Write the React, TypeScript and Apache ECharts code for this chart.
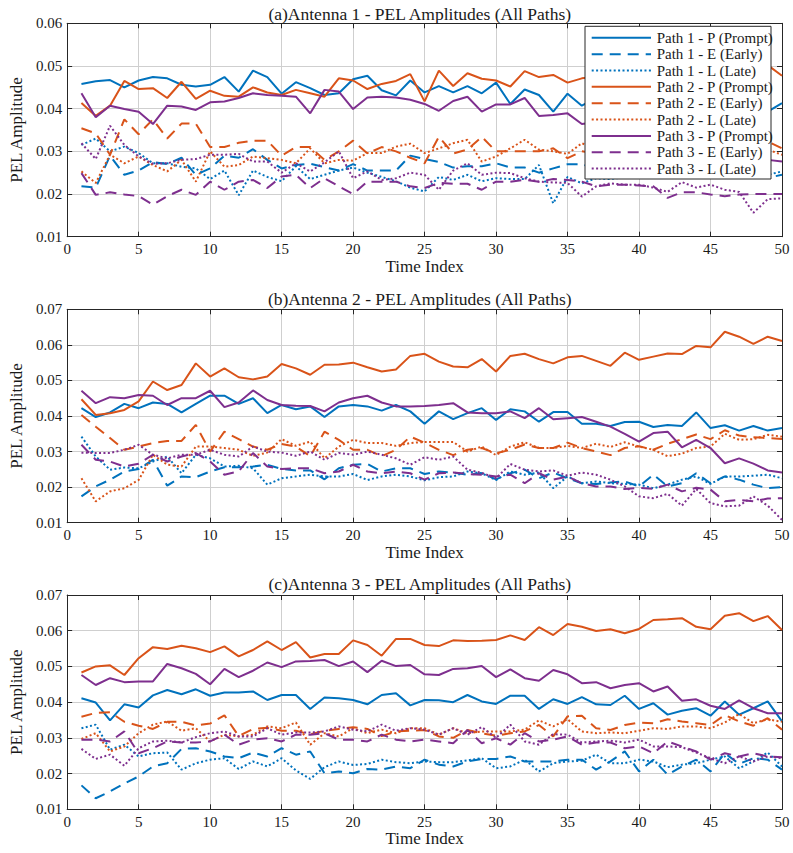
import React, { useEffect, useRef } from "react";
import * as echarts from "echarts";

// Time index (x axis)
const timeIndex = [
  1, 2, 3, 4, 5, 6, 7, 8, 9, 10,
  11, 12, 13, 14, 15, 16, 17, 18, 19, 20,
  21, 22, 23, 24, 25, 26, 27, 28, 29, 30,
  31, 32, 33, 34, 35, 36, 37, 38, 39, 40,
  41, 42, 43, 44, 45, 46, 47, 48, 49, 50,
];

const seriesNames = [
  "Path 1 - P (Prompt)",
  "Path 1 - E (Early)",
  "Path 1 - L (Late)",
  "Path 2 - P (Prompt)",
  "Path 2 - E (Early)",
  "Path 2 - L (Late)",
  "Path 3 - P (Prompt)",
  "Path 3 - E (Early)",
  "Path 3 - L (Late)",
];

const panelTitles = [
  "(a)Antenna 1 - PEL Amplitudes (All Paths)",
  "(b)Antenna 2 - PEL Amplitudes (All Paths)",
  "(c)Antenna 3 - PEL Amplitudes (All Paths)",
];

const yTicksMin = [0.01, 0.01, 0.01];
const yTicksMax = [0.06, 0.07, 0.07];

// ---------- Antenna 1 ----------
const ant1Path1P = [
  0.0458, 0.0464, 0.0467, 0.0450, 0.0466, 0.0474, 0.0471, 0.0456, 0.0452, 0.0456,
  0.0474, 0.0440, 0.0489, 0.0474, 0.0435, 0.0462, 0.0448, 0.0432, 0.0436, 0.0469,
  0.0477, 0.0443, 0.0431, 0.0466, 0.0438, 0.0453, 0.0438, 0.0453, 0.0436, 0.0461,
  0.0411, 0.0445, 0.0432, 0.0393, 0.0435, 0.0407, 0.0425, 0.0418, 0.0435, 0.0412,
  0.0430, 0.0405, 0.0422, 0.0415, 0.0428, 0.0408, 0.0418, 0.0402, 0.0393, 0.0413,
];
const ant1Path1E = [
  0.0218, 0.0215, 0.0290, 0.0245, 0.0255, 0.0275, 0.0270, 0.0285, 0.0245, 0.0260,
  0.0290, 0.0285, 0.0305, 0.0280, 0.0260, 0.0268, 0.0271, 0.0263, 0.0255, 0.0270,
  0.0255, 0.0255, 0.0255, 0.0290, 0.0282, 0.0275, 0.0262, 0.0265, 0.0265, 0.0272,
  0.0262, 0.0262, 0.0250, 0.0260, 0.0270, 0.0270, 0.0260, 0.0265, 0.0255, 0.0260,
  0.0250, 0.0262, 0.0248, 0.0255, 0.0245, 0.0250, 0.0242, 0.0248, 0.0238, 0.0245,
];
const ant1Path1L = [
  0.0315, 0.0330, 0.0300, 0.0311, 0.0296, 0.0272, 0.0272, 0.0264, 0.0260, 0.0235,
  0.0255, 0.0197, 0.0255, 0.0240, 0.0230, 0.0265, 0.0235, 0.0245, 0.0255, 0.0262,
  0.0250, 0.0240, 0.0230, 0.0215, 0.0206, 0.0240, 0.0233, 0.0245, 0.0230, 0.0237,
  0.0235, 0.0235, 0.0268, 0.0178, 0.0240, 0.0225, 0.0237, 0.0235, 0.0240, 0.0238,
  0.0245, 0.0245, 0.0242, 0.0240, 0.0245, 0.0245, 0.0240, 0.0243, 0.0245, 0.0253,
];
const ant1Path2P = [
  0.0413, 0.0383, 0.0407, 0.0465, 0.0446, 0.0448, 0.0425, 0.0463, 0.0423, 0.0442,
  0.0430, 0.0428, 0.0450, 0.0438, 0.0432, 0.0444, 0.0436, 0.0428, 0.0471, 0.0466,
  0.0446, 0.0458, 0.0465, 0.0481, 0.0417, 0.0489, 0.0453, 0.0483, 0.0470, 0.0466,
  0.0452, 0.0488, 0.0474, 0.0479, 0.0461, 0.0471, 0.0475, 0.0482, 0.0468, 0.0490,
  0.0478, 0.0485, 0.0470, 0.0492, 0.0480, 0.0495, 0.0485, 0.0498, 0.0502, 0.0477,
];
const ant1Path2E = [
  0.0354, 0.0342, 0.0292, 0.0375, 0.0340, 0.0375, 0.0330, 0.0365, 0.0365, 0.0310,
  0.0310, 0.0320, 0.0325, 0.0325, 0.0290, 0.0310, 0.0310, 0.0280, 0.0300, 0.0325,
  0.0295, 0.0310, 0.0300, 0.0285, 0.0272, 0.0334, 0.0295, 0.0304, 0.0334, 0.0300,
  0.0300, 0.0300, 0.0300, 0.0307, 0.0284, 0.0300, 0.0295, 0.0305, 0.0300, 0.0310,
  0.0298, 0.0305, 0.0315, 0.0300, 0.0310, 0.0318, 0.0305, 0.0315, 0.0323, 0.0307,
];
const ant1Path2L = [
  0.0253, 0.0226, 0.0292, 0.0272, 0.0288, 0.0268, 0.0253, 0.0280, 0.0229, 0.0300,
  0.0264, 0.0268, 0.0288, 0.0284, 0.0280, 0.0272, 0.0307, 0.0272, 0.0280, 0.0278,
  0.0296, 0.0296, 0.0311, 0.0318, 0.0296, 0.0307, 0.0319, 0.0327, 0.0276, 0.0288,
  0.0307, 0.0327, 0.0304, 0.0300, 0.0294, 0.0319, 0.0305, 0.0300, 0.0295, 0.0305,
  0.0290, 0.0300, 0.0295, 0.0310, 0.0298, 0.0302, 0.0295, 0.0300, 0.0304, 0.0292,
];
const ant1Path3P = [
  0.0436, 0.0380, 0.0407, 0.0399, 0.0393, 0.0364, 0.0407, 0.0405, 0.0397, 0.0415,
  0.0417, 0.0425, 0.0436, 0.0432, 0.0430, 0.0428, 0.0389, 0.0444, 0.0440, 0.0399,
  0.0426, 0.0428, 0.0426, 0.0421, 0.0411, 0.0395, 0.0418, 0.0428, 0.0393, 0.0410,
  0.0410, 0.0425, 0.0383, 0.0385, 0.0389, 0.0364, 0.0368, 0.0372, 0.0355, 0.0360,
  0.0345, 0.0335, 0.0325, 0.0318, 0.0305, 0.0300, 0.0292, 0.0288, 0.0280, 0.0276,
];
const ant1Path3E = [
  0.0249, 0.0198, 0.0204, 0.0199, 0.0195, 0.0175, 0.0195, 0.0210, 0.0198, 0.0229,
  0.0210, 0.0229, 0.0233, 0.0214, 0.0241, 0.0245, 0.0214, 0.0237, 0.0218, 0.0200,
  0.0229, 0.0229, 0.0229, 0.0218, 0.0214, 0.0226, 0.0224, 0.0224, 0.0210, 0.0229,
  0.0229, 0.0233, 0.0229, 0.0235, 0.0233, 0.0229, 0.0218, 0.0222, 0.0222, 0.0220,
  0.0218, 0.0191, 0.0204, 0.0204, 0.0199, 0.0195, 0.0199, 0.0200, 0.0200, 0.0200,
];
const ant1Path3L = [
  0.0319, 0.0282, 0.0360, 0.0315, 0.0288, 0.0271, 0.0272, 0.0280, 0.0282, 0.0292,
  0.0292, 0.0294, 0.0276, 0.0276, 0.0250, 0.0272, 0.0253, 0.0274, 0.0300, 0.0237,
  0.0253, 0.0233, 0.0237, 0.0250, 0.0245, 0.0210, 0.0255, 0.0272, 0.0245, 0.0250,
  0.0249, 0.0237, 0.0229, 0.0227, 0.0226, 0.0194, 0.0218, 0.0225, 0.0222, 0.0222,
  0.0215, 0.0205, 0.0228, 0.0215, 0.0222, 0.0210, 0.0205, 0.0156, 0.0188, 0.0190,
];

// ---------- Antenna 2 ----------
const ant2Path1P = [
  0.0422, 0.0397, 0.0410, 0.0434, 0.0422, 0.0438, 0.0434, 0.0410, 0.0434, 0.0457,
  0.0457, 0.0434, 0.0450, 0.0408, 0.0431, 0.0419, 0.0427, 0.0397, 0.0427, 0.0431,
  0.0427, 0.0415, 0.0431, 0.0413, 0.0378, 0.0413, 0.0391, 0.0408, 0.0422, 0.0389,
  0.0419, 0.0413, 0.0384, 0.0411, 0.0411, 0.0378, 0.0378, 0.0372, 0.0383, 0.0384,
  0.0369, 0.0375, 0.0372, 0.0410, 0.0366, 0.0374, 0.0359, 0.0372, 0.0359, 0.0366,
];
const ant2Path1E = [
  0.0174, 0.0202, 0.0221, 0.0244, 0.0251, 0.0277, 0.0204, 0.0230, 0.0228, 0.0244,
  0.0256, 0.0256, 0.0258, 0.0263, 0.0251, 0.0247, 0.0247, 0.0222, 0.0253, 0.0263,
  0.0265, 0.0244, 0.0253, 0.0253, 0.0237, 0.0244, 0.0241, 0.0235, 0.0239, 0.0222,
  0.0239, 0.0249, 0.0225, 0.0241, 0.0225, 0.0211, 0.0209, 0.0213, 0.0216, 0.0202,
  0.0235, 0.0202, 0.0211, 0.0239, 0.0211, 0.0230, 0.0221, 0.0207, 0.0197, 0.0200,
];
const ant2Path1L = [
  0.0342, 0.0286, 0.0249, 0.0255, 0.0253, 0.0272, 0.0286, 0.0239, 0.0291, 0.0281,
  0.0258, 0.0260, 0.0253, 0.0207, 0.0225, 0.0230, 0.0235, 0.0230, 0.0230, 0.0237,
  0.0220, 0.0230, 0.0235, 0.0230, 0.0219, 0.0228, 0.0230, 0.0244, 0.0239, 0.0220,
  0.0244, 0.0235, 0.0241, 0.0197, 0.0230, 0.0211, 0.0216, 0.0211, 0.0209, 0.0207,
  0.0197, 0.0207, 0.0221, 0.0230, 0.0209, 0.0230, 0.0230, 0.0232, 0.0235, 0.0225,
];
const ant2Path2P = [
  0.0447, 0.0403, 0.0408, 0.0417, 0.0441, 0.0497, 0.0473, 0.0487, 0.0548, 0.0511,
  0.0534, 0.0509, 0.0503, 0.0511, 0.0546, 0.0534, 0.0516, 0.0544, 0.0545, 0.0550,
  0.0537, 0.0525, 0.0531, 0.0569, 0.0575, 0.0553, 0.0539, 0.0537, 0.0560, 0.0525,
  0.0569, 0.0575, 0.0560, 0.0548, 0.0565, 0.0569, 0.0555, 0.0541, 0.0578, 0.0558,
  0.0567, 0.0576, 0.0574, 0.0597, 0.0593, 0.0637, 0.0623, 0.0603, 0.0623, 0.0611,
];
const ant2Path2E = [
  0.0403, 0.0370, 0.0338, 0.0305, 0.0314, 0.0324, 0.0330, 0.0330, 0.0375, 0.0300,
  0.0356, 0.0335, 0.0314, 0.0305, 0.0321, 0.0314, 0.0287, 0.0356, 0.0333, 0.0305,
  0.0305, 0.0287, 0.0305, 0.0342, 0.0325, 0.0305, 0.0290, 0.0305, 0.0310, 0.0295,
  0.0305, 0.0320, 0.0310, 0.0310, 0.0325, 0.0310, 0.0300, 0.0290, 0.0310, 0.0315,
  0.0305, 0.0322, 0.0335, 0.0348, 0.0335, 0.0360, 0.0345, 0.0340, 0.0338, 0.0335,
];
const ant2Path2L = [
  0.0225, 0.0160, 0.0188, 0.0197, 0.0220, 0.0291, 0.0263, 0.0258, 0.0314, 0.0314,
  0.0310, 0.0305, 0.0288, 0.0297, 0.0335, 0.0316, 0.0328, 0.0281, 0.0314, 0.0333,
  0.0324, 0.0324, 0.0316, 0.0324, 0.0327, 0.0327, 0.0327, 0.0300, 0.0314, 0.0290,
  0.0314, 0.0326, 0.0310, 0.0310, 0.0316, 0.0310, 0.0322, 0.0313, 0.0326, 0.0314,
  0.0305, 0.0287, 0.0294, 0.0310, 0.0314, 0.0350, 0.0333, 0.0335, 0.0347, 0.0342,
];
const ant2Path3P = [
  0.0471, 0.0436, 0.0453, 0.0450, 0.0459, 0.0457, 0.0431, 0.0450, 0.0450, 0.0471,
  0.0425, 0.0438, 0.0472, 0.0445, 0.0431, 0.0429, 0.0428, 0.0413, 0.0438, 0.0450,
  0.0457, 0.0438, 0.0427, 0.0427, 0.0428, 0.0431, 0.0436, 0.0410, 0.0408, 0.0408,
  0.0413, 0.0394, 0.0422, 0.0391, 0.0394, 0.0397, 0.0384, 0.0370, 0.0350, 0.0328,
  0.0352, 0.0356, 0.0312, 0.0333, 0.0310, 0.0267, 0.0281, 0.0266, 0.0247, 0.0241,
];
const ant2Path3E = [
  0.0319, 0.0277, 0.0272, 0.0258, 0.0266, 0.0291, 0.0272, 0.0286, 0.0296, 0.0272,
  0.0235, 0.0244, 0.0296, 0.0258, 0.0251, 0.0253, 0.0253, 0.0239, 0.0244, 0.0263,
  0.0244, 0.0239, 0.0244, 0.0239, 0.0221, 0.0239, 0.0241, 0.0237, 0.0235, 0.0230,
  0.0235, 0.0211, 0.0239, 0.0221, 0.0230, 0.0211, 0.0202, 0.0202, 0.0195, 0.0198,
  0.0195, 0.0207, 0.0188, 0.0198, 0.0193, 0.0160, 0.0164, 0.0160, 0.0168, 0.0169,
];
const ant2Path3L = [
  0.0297, 0.0296, 0.0296, 0.0305, 0.0319, 0.0291, 0.0281, 0.0291, 0.0291, 0.0305,
  0.0291, 0.0286, 0.0314, 0.0300, 0.0297, 0.0288, 0.0300, 0.0277, 0.0296, 0.0291,
  0.0300, 0.0291, 0.0281, 0.0263, 0.0284, 0.0277, 0.0286, 0.0249, 0.0240, 0.0225,
  0.0265, 0.0249, 0.0244, 0.0247, 0.0232, 0.0241, 0.0235, 0.0221, 0.0202, 0.0174,
  0.0169, 0.0181, 0.0148, 0.0195, 0.0155, 0.0146, 0.0148, 0.0174, 0.0148, 0.0108,
];

// ---------- Antenna 3 ----------
const ant3Path1P = [
  0.0411, 0.0399, 0.0349, 0.0394, 0.0385, 0.0419, 0.0434, 0.0422, 0.0436, 0.0418,
  0.0427, 0.0427, 0.0430, 0.0406, 0.0420, 0.0420, 0.0381, 0.0413, 0.0411, 0.0406,
  0.0394, 0.0420, 0.0425, 0.0391, 0.0406, 0.0405, 0.0400, 0.0420, 0.0402, 0.0395,
  0.0418, 0.0418, 0.0381, 0.0408, 0.0395, 0.0414, 0.0394, 0.0392, 0.0418, 0.0381,
  0.0397, 0.0365, 0.0376, 0.0383, 0.0362, 0.0402, 0.0365, 0.0383, 0.0402, 0.0346,
];
const ant3Path1E = [
  0.0167, 0.0131, 0.0150, 0.0172, 0.0192, 0.0220, 0.0229, 0.0269, 0.0271, 0.0262,
  0.0248, 0.0243, 0.0259, 0.0248, 0.0271, 0.0253, 0.0262, 0.0201, 0.0206, 0.0201,
  0.0213, 0.0211, 0.0220, 0.0215, 0.0239, 0.0225, 0.0220, 0.0234, 0.0241, 0.0241,
  0.0248, 0.0234, 0.0234, 0.0234, 0.0239, 0.0239, 0.0211, 0.0234, 0.0262, 0.0206,
  0.0239, 0.0197, 0.0220, 0.0239, 0.0206, 0.0257, 0.0227, 0.0243, 0.0239, 0.0211,
];
const ant3Path1L = [
  0.0327, 0.0337, 0.0267, 0.0281, 0.0248, 0.0257, 0.0259, 0.0211, 0.0229, 0.0239,
  0.0243, 0.0213, 0.0234, 0.0220, 0.0243, 0.0209, 0.0185, 0.0218, 0.0234, 0.0224,
  0.0227, 0.0239, 0.0232, 0.0229, 0.0234, 0.0232, 0.0232, 0.0237, 0.0243, 0.0215,
  0.0220, 0.0239, 0.0206, 0.0229, 0.0234, 0.0236, 0.0253, 0.0229, 0.0229, 0.0239,
  0.0234, 0.0218, 0.0225, 0.0229, 0.0239, 0.0248, 0.0215, 0.0234, 0.0259, 0.0220,
];
const ant3Path2P = [
  0.0483, 0.0500, 0.0503, 0.0476, 0.0523, 0.0554, 0.0549, 0.0558, 0.0551, 0.0540,
  0.0556, 0.0528, 0.0546, 0.0570, 0.0546, 0.0568, 0.0525, 0.0535, 0.0535, 0.0573,
  0.0560, 0.0530, 0.0577, 0.0577, 0.0560, 0.0557, 0.0573, 0.0571, 0.0572, 0.0574,
  0.0587, 0.0574, 0.0610, 0.0588, 0.0619, 0.0611, 0.0599, 0.0604, 0.0593, 0.0605,
  0.0630, 0.0632, 0.0635, 0.0611, 0.0604, 0.0642, 0.0649, 0.0627, 0.0641, 0.0602,
];
const ant3Path2E = [
  0.0359, 0.0370, 0.0372, 0.0345, 0.0334, 0.0325, 0.0345, 0.0345, 0.0335, 0.0340,
  0.0363, 0.0305, 0.0325, 0.0328, 0.0320, 0.0320, 0.0310, 0.0320, 0.0325, 0.0330,
  0.0325, 0.0305, 0.0318, 0.0320, 0.0322, 0.0304, 0.0300, 0.0322, 0.0313, 0.0306,
  0.0313, 0.0318, 0.0336, 0.0304, 0.0360, 0.0362, 0.0327, 0.0322, 0.0336, 0.0343,
  0.0341, 0.0352, 0.0346, 0.0341, 0.0336, 0.0364, 0.0346, 0.0334, 0.0355, 0.0323,
];
const ant3Path2L = [
  0.0297, 0.0313, 0.0262, 0.0276, 0.0313, 0.0337, 0.0346, 0.0320, 0.0327, 0.0290,
  0.0309, 0.0304, 0.0309, 0.0332, 0.0327, 0.0343, 0.0281, 0.0313, 0.0304, 0.0327,
  0.0313, 0.0323, 0.0313, 0.0327, 0.0327, 0.0309, 0.0327, 0.0313, 0.0318, 0.0318,
  0.0318, 0.0323, 0.0349, 0.0332, 0.0352, 0.0318, 0.0313, 0.0315, 0.0313, 0.0320,
  0.0327, 0.0325, 0.0332, 0.0332, 0.0327, 0.0343, 0.0367, 0.0341, 0.0352, 0.0345,
];
const ant3Path3P = [
  0.0476, 0.0448, 0.0467, 0.0456, 0.0458, 0.0458, 0.0507, 0.0495, 0.0479, 0.0450,
  0.0493, 0.0470, 0.0488, 0.0511, 0.0498, 0.0514, 0.0515, 0.0518, 0.0501, 0.0514,
  0.0484, 0.0516, 0.0501, 0.0504, 0.0478, 0.0476, 0.0493, 0.0495, 0.0501, 0.0470,
  0.0492, 0.0467, 0.0460, 0.0490, 0.0478, 0.0453, 0.0456, 0.0439, 0.0448, 0.0453,
  0.0430, 0.0444, 0.0404, 0.0408, 0.0390, 0.0381, 0.0405, 0.0383, 0.0369, 0.0369,
];
const ant3Path3E = [
  0.0295, 0.0295, 0.0290, 0.0318, 0.0257, 0.0271, 0.0290, 0.0287, 0.0287, 0.0290,
  0.0309, 0.0281, 0.0295, 0.0299, 0.0290, 0.0309, 0.0309, 0.0313, 0.0295, 0.0295,
  0.0290, 0.0309, 0.0295, 0.0290, 0.0295, 0.0290, 0.0285, 0.0322, 0.0285, 0.0299,
  0.0281, 0.0313, 0.0290, 0.0295, 0.0304, 0.0281, 0.0287, 0.0287, 0.0271, 0.0276,
  0.0257, 0.0290, 0.0276, 0.0262, 0.0239, 0.0257, 0.0248, 0.0257, 0.0248, 0.0246,
];
const ant3Path3L = [
  0.0269, 0.0241, 0.0253, 0.0222, 0.0271, 0.0290, 0.0292, 0.0287, 0.0302, 0.0313,
  0.0318, 0.0304, 0.0304, 0.0327, 0.0309, 0.0315, 0.0315, 0.0318, 0.0332, 0.0323,
  0.0318, 0.0337, 0.0320, 0.0327, 0.0323, 0.0309, 0.0327, 0.0309, 0.0330, 0.0300,
  0.0337, 0.0290, 0.0281, 0.0310, 0.0309, 0.0287, 0.0290, 0.0292, 0.0287, 0.0295,
  0.0276, 0.0276, 0.0274, 0.0259, 0.0243, 0.0229, 0.0248, 0.0234, 0.0248, 0.0243,
];

const panels = [
  [ant1Path1P, ant1Path1E, ant1Path1L, ant1Path2P, ant1Path2E, ant1Path2L, ant1Path3P, ant1Path3E, ant1Path3L],
  [ant2Path1P, ant2Path1E, ant2Path1L, ant2Path2P, ant2Path2E, ant2Path2L, ant2Path3P, ant2Path3E, ant2Path3L],
  [ant3Path1P, ant3Path1E, ant3Path1L, ant3Path2P, ant3Path2E, ant3Path2L, ant3Path3P, ant3Path3E, ant3Path3L],
];

const FONT = "Liberation Serif";
const INK = "#1a1a1a";
const AXIS = "#262626";
const GRID_LINE = "#cfcfcf";
const BLUE = "#0072BD";
const ORANGE = "#D95319";
const PURPLE = "#7E2F8E";

const lineColors = [BLUE, BLUE, BLUE, ORANGE, ORANGE, ORANGE, PURPLE, PURPLE, PURPLE];
const DASHED = [11, 7];
const DOTTED = [2, 2.4];
const lineDashes: any[] = [null, DASHED, DOTTED, null, DASHED, DOTTED, null, DASHED, DOTTED];

// panel placement (px)
const PLOT_LEFT = 57.5;
const PLOT_WIDTH = 724.5;
const plotTops = [23.3, 309.3, 595];
const plotHeights = [213.4, 213.4, 214.3];
const titleTops = [5, 290, 575];

// legend box (first panel, top right)
const LEG_X = 585;
const LEG_Y = 26.3;
const LEG_W = 186;
const LEG_H = 152.7;
const LEG_ROW0 = 37.8;
const LEG_ROW_STEP = 16.35;

function buildLegend() {
  const children: any[] = [
    {
      type: "rect",
      shape: { x: LEG_X, y: LEG_Y, width: LEG_W, height: LEG_H },
      style: { fill: "#ffffff", stroke: AXIS, lineWidth: 1 },
      z: 100,
    },
  ];
  seriesNames.forEach((name, i) => {
    const cy = LEG_ROW0 + i * LEG_ROW_STEP;
    children.push({
      type: "line",
      shape: { x1: LEG_X + 6.7, y1: cy, x2: LEG_X + 66, y2: cy },
      style: {
        stroke: lineColors[i],
        lineWidth: 2,
        lineDash: lineDashes[i] || undefined,
      },
      z: 101,
    });
    children.push({
      type: "text",
      x: LEG_X + 71.7,
      y: cy,
      style: {
        text: name,
        fill: INK,
        font: `15px ${FONT}`,
        fontFamily: FONT,
        fontSize: 15,
        verticalAlign: "middle",
        align: "left",
      },
      z: 101,
    });
  });
  return children;
}

function buildOption() {
  const grid: any[] = [];
  const xAxis: any[] = [];
  const yAxis: any[] = [];
  const title: any[] = [];
  const series: any[] = [];

  panels.forEach((panel, p) => {
    grid.push({
      left: PLOT_LEFT,
      top: plotTops[p],
      width: PLOT_WIDTH,
      height: plotHeights[p],
      containLabel: false,
    });
    title.push({
      text: panelTitles[p],
      left: PLOT_LEFT + PLOT_WIDTH / 2,
      top: titleTops[p],
      textAlign: "center",
      padding: 0,
      textStyle: { fontFamily: FONT, fontSize: 17.5, fontWeight: "normal", color: INK },
    });
    // bottom x axis
    xAxis.push({
      gridIndex: p,
      type: "value",
      position: "bottom",
      min: 0,
      max: 50,
      interval: 5,
      name: "Time Index",
      nameLocation: "middle",
      nameGap: 20,
      nameTextStyle: { fontFamily: FONT, fontSize: 17, fontWeight: "normal", color: INK },
      axisLine: { show: true, onZero: false, lineStyle: { color: AXIS, width: 1 } },
      axisTick: { show: true, inside: true, length: 5, lineStyle: { color: AXIS } },
      axisLabel: { fontFamily: FONT, fontSize: 15, color: INK, margin: 5 },
      splitLine: { show: true, lineStyle: { color: GRID_LINE, width: 1 } },
    });
    // top x axis: box edge and ticks
    xAxis.push({
      gridIndex: p,
      type: "value",
      position: "top",
      min: 0,
      max: 50,
      interval: 5,
      axisLine: { show: true, onZero: false, lineStyle: { color: AXIS, width: 1 } },
      axisTick: { show: true, inside: true, length: 5, lineStyle: { color: AXIS } },
      axisLabel: { show: false },
      splitLine: { show: false },
    });
    // left y axis
    yAxis.push({
      gridIndex: p,
      type: "value",
      position: "left",
      min: yTicksMin[p],
      max: yTicksMax[p],
      interval: 0.01,
      name: "PEL Amplitude",
      nameLocation: "middle",
      nameGap: 36,
      nameTextStyle: { fontFamily: FONT, fontSize: 17, fontWeight: "normal", color: INK },
      axisLine: { show: true, onZero: false, lineStyle: { color: AXIS, width: 1 } },
      axisTick: { show: true, inside: true, length: 5, lineStyle: { color: AXIS } },
      axisLabel: {
        fontFamily: FONT,
        fontSize: 15,
        color: INK,
        margin: 5,
        formatter: (v: number) => v.toFixed(2),
      },
      splitLine: { show: true, lineStyle: { color: GRID_LINE, width: 1 } },
    });
    // right y axis: box edge and ticks
    yAxis.push({
      gridIndex: p,
      type: "value",
      position: "right",
      min: yTicksMin[p],
      max: yTicksMax[p],
      interval: 0.01,
      axisLine: { show: true, onZero: false, lineStyle: { color: AXIS, width: 1 } },
      axisTick: { show: true, inside: true, length: 5, lineStyle: { color: AXIS } },
      axisLabel: { show: false },
      splitLine: { show: false },
    });

    panel.forEach((values, s) => {
      series.push({
        type: "line",
        name: seriesNames[s],
        xAxisIndex: p * 2,
        yAxisIndex: p * 2,
        data: timeIndex.map((t, k) => [t, values[k]]),
        symbol: "none",
        showSymbol: false,
        silent: true,
        color: lineColors[s],
        lineStyle: { color: lineColors[s], width: 2, type: lineDashes[s] || "solid" },
        z: 3,
      });
    });
  });

  return {
    animation: false,
    backgroundColor: "#ffffff",
    textStyle: { fontFamily: FONT },
    title,
    grid,
    xAxis,
    yAxis,
    series,
    graphic: { elements: buildLegend() },
  };
}

export default function App() {
  const ref = useRef<HTMLDivElement>(null);

  useEffect(() => {
    document.body.style.margin = "0";
    if (!ref.current) return;
    const chart = echarts.init(ref.current, undefined, { renderer: "svg" });
    chart.setOption(buildOption() as any);
    return () => {
      chart.dispose();
    };
  }, []);

  return <div ref={ref} style={{ width: 793, height: 853, background: "#fff" }} />;
}
